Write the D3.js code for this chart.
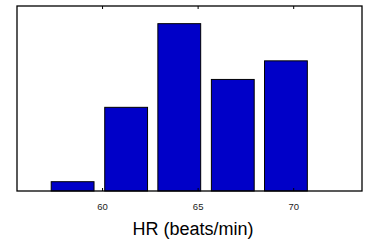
<!DOCTYPE html>
<html>
<head>
<meta charset="utf-8">
<script src="https://cdn.jsdelivr.net/npm/d3@7"></script>
<style>
  body { margin: 0; background: #fff; }
  svg { display: block; }
</style>
</head>
<body>
<svg id="chart" width="366" height="241"></svg>
<script>
// histogram bins (bin centres) and counts
var binCenters = [58.46, 61.26, 64.04, 66.84, 69.62];
var counts = [1, 9, 18, 12, 14];
var xTicks = [60, 65, 70];
var xLabel = "HR (beats/min)";

var width = 366, height = 241;
var margin = {top: 6, right: 4, bottom: 50, left: 17};

var svg = d3.select("#chart");

var x = d3.scaleLinear()
  .domain([55.55, 73.6])
  .range([margin.left, width - margin.right]);

var y = d3.scaleLinear()
  .domain([0, 19.9])
  .range([height - margin.bottom, margin.top]);

var binW = binCenters[1] - binCenters[0];
var barW = x(binCenters[0] + binW * 0.4) - x(binCenters[0] - binW * 0.4);

// bars
svg.append("g")
  .selectAll("rect")
  .data(counts)
  .enter()
  .append("rect")
    .attr("x", function(d, i) { return x(binCenters[i]) - barW / 2; })
    .attr("y", function(d) { return y(d); })
    .attr("width", barW)
    .attr("height", function(d) { return y(0) - y(d); })
    .attr("fill", "#0000c8")
    .attr("stroke", "#000")
    .attr("stroke-width", 1);

// bottom axis, ticks pointing inward
var xAxis = d3.axisBottom(x)
  .tickValues(xTicks)
  .tickSizeInner(-3)
  .tickSizeOuter(0)
  .tickPadding(12);

var gx = svg.append("g")
  .attr("transform", "translate(0," + y(0) + ")")
  .call(xAxis);
gx.select(".domain").remove();
gx.selectAll("line").attr("stroke", "#000");
gx.selectAll("text")
  .attr("font-family", "Liberation Sans, Arial, sans-serif")
  .attr("font-size", 9.5)
  .attr("fill", "#222");

// top axis ticks mirrored
var gt = svg.append("g")
  .attr("transform", "translate(0," + margin.top + ")")
  .call(d3.axisTop(x).tickValues(xTicks).tickSizeInner(-3).tickSizeOuter(0).tickFormat(""));
gt.select(".domain").remove();
gt.selectAll("line").attr("stroke", "#000");

// frame
svg.append("rect")
  .attr("x", margin.left)
  .attr("y", margin.top)
  .attr("width", width - margin.left - margin.right)
  .attr("height", y(0) - margin.top)
  .attr("fill", "none")
  .attr("stroke", "#000")
  .attr("stroke-width", 1.3);

// axis label
svg.append("text")
  .attr("x", 193)
  .attr("y", 235)
  .attr("text-anchor", "middle")
  .attr("font-family", "Liberation Sans, Arial, sans-serif")
  .attr("font-size", 18)
  .attr("fill", "#000")
  .text(xLabel);
</script>
</body>
</html>
